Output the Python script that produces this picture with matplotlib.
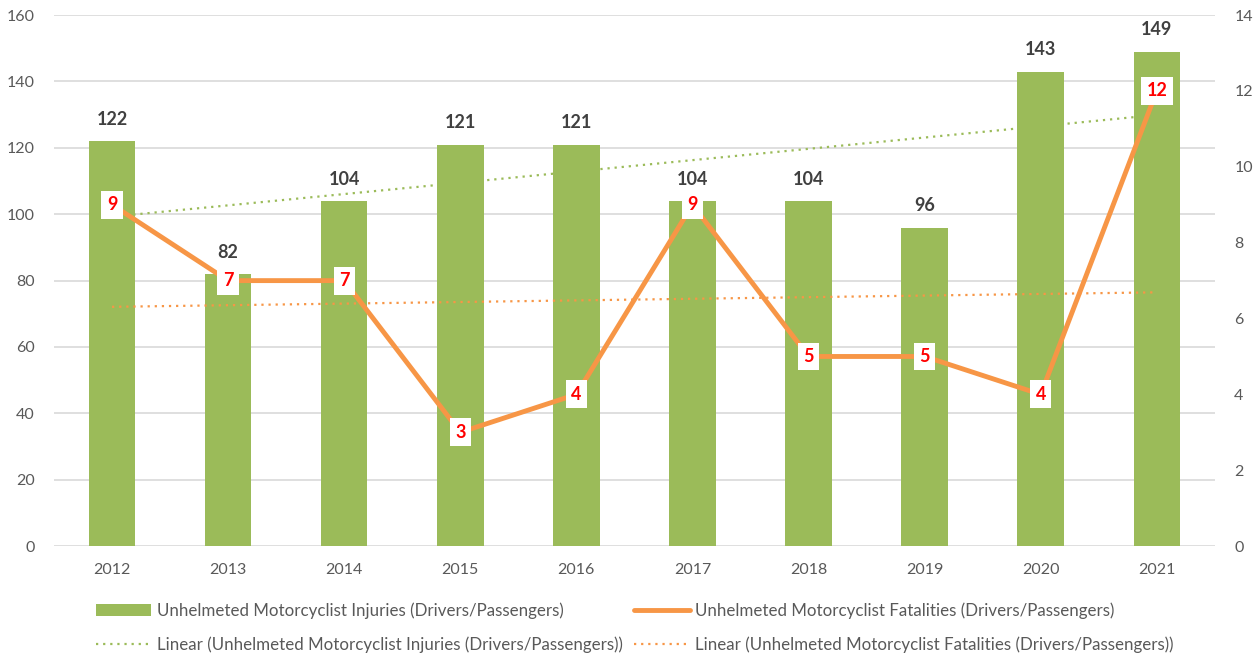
import matplotlib
matplotlib.use('Agg')
import matplotlib.pyplot as plt
import numpy as np

plt.rcParams['font.family'] = ['Lato', 'DejaVu Sans']

# data
years = ['2012', '2013', '2014', '2015', '2016', '2017', '2018', '2019', '2020', '2021']
injuries = [122, 82, 104, 121, 121, 104, 104, 96, 143, 149]
fatalities = [9, 7, 7, 3, 4, 9, 5, 5, 4, 12]

inj_label = 'Unhelmeted Motorcyclist Injuries (Drivers/Passengers)'
fat_label = 'Unhelmeted Motorcyclist Fatalities (Drivers/Passengers)'

green = '#9BBB59'
orange = '#F79646'
grid = '#D9D9D9'
tick_col = '#595959'

fig = plt.figure(figsize=(12.59, 6.66), dpi=100)
ax = fig.add_axes([0.0429, 0.18, 0.922, 0.7973])
x = np.arange(len(years))

# bars
bars = ax.bar(x, injuries, width=0.4, color=green, zorder=2, label=inj_label)
for xi, v in zip(x, injuries):
    ax.text(xi, v + 4, str(v), ha='center', va='bottom', fontsize=13,
            fontweight='bold', color='#404040', zorder=5)

# trend of injuries
k, b = np.polyfit(x, injuries, 1)
tr1, = ax.plot(x, k * x + b, linestyle=(0, (1, 2.2)), color=green, lw=1.6,
               zorder=3, label='Linear (' + inj_label + ')')

ax.set_xlim(-0.5, len(years) - 0.5)
ax.set_ylim(0, 160)
ax.set_yticks(range(0, 161, 20))
ax.set_xticks(x)
ax.set_xticklabels(years)
ax.yaxis.grid(True, color=grid, lw=1.2, zorder=0)
ax.set_axisbelow(True)
for s in ax.spines.values():
    s.set_visible(False)
ax.tick_params(length=0, labelsize=11.5, colors=tick_col)
ax.tick_params(axis='x', pad=12)
ax.tick_params(axis='y', pad=14)

# secondary axis with fatalities
ax2 = ax.twinx()
ax2.set_ylim(0, 14)
ax2.set_yticks(range(0, 15, 2))
for s in ax2.spines.values():
    s.set_visible(False)
ax2.tick_params(length=0, labelsize=11.5, colors=tick_col, pad=14)

k2, b2 = np.polyfit(x, fatalities, 1)
tr2, = ax2.plot(x, k2 * x + b2, linestyle=(0, (1, 2.2)), color=orange, lw=1.6,
                zorder=3, label='Linear (' + fat_label + ')')
ln, = ax2.plot(x, fatalities, color=orange, lw=3.5, zorder=4,
               solid_capstyle='round', label=fat_label)
for xi, v in zip(x, fatalities):
    ax2.text(xi, v, str(v), ha='center', va='center', fontsize=13,
             fontweight='bold', color='#FF0000', zorder=6,
             bbox=dict(boxstyle='square,pad=0.3', fc='white', ec='none'))

fig.legend([bars, tr1, ln, tr2],
           [inj_label, 'Linear (' + inj_label + ')', fat_label, 'Linear (' + fat_label + ')'],
           loc='upper left', bbox_to_anchor=(0.0705, 0.106), ncol=2, frameon=False,
           fontsize=12.2, labelcolor=tick_col, handlelength=3.3, handletextpad=0.3,
           columnspacing=0.7, labelspacing=1.05, borderaxespad=0)

fig.savefig('out.png', dpi=100)
